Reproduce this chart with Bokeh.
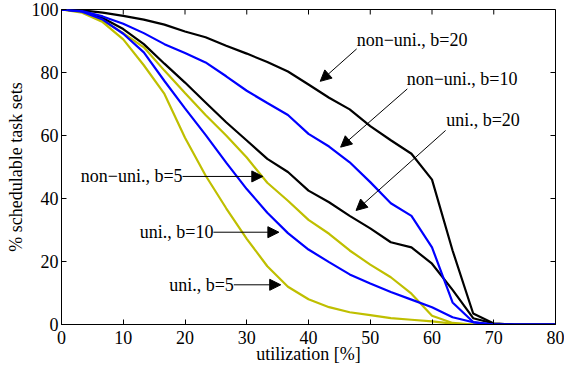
from bokeh.plotting import figure
from bokeh.models import Range1d, FixedTicker, Label, Arrow, NormalHead
from bokeh.embed import file_html
from bokeh.resources import INLINE

# ---- data ----
utilization = [0, 3.33, 6.67, 10, 13.33, 16.67, 20, 23.33, 26.67, 30, 33.33, 36.67, 40,
               43.33, 46.67, 50, 53.33, 56.67, 60, 63.33, 66.67, 70, 73.33, 76.67, 80]
non_uni_b20 = [100, 99.7, 99, 98, 96.8, 95.2, 93, 91.2, 88.5, 86, 83.3, 80.3, 76.2,
               72, 68.3, 63, 58.5, 54.2, 46, 23.5, 3.5, 0.3, 0, 0, 0]
non_uni_b10 = [100, 99.5, 97.8, 95.5, 92.5, 89, 86.2, 83.2, 78.8, 74.2, 70.3, 66.5, 60.5,
               56.5, 51.5, 45.2, 38.5, 34.5, 24.5, 7, 0.8, 0, 0, 0, 0]
uni_b20 = [100, 99.5, 97.3, 93.8, 89, 82.8, 76.8, 70.5, 64.2, 58.4, 52.6, 48.4, 42.5,
           38.8, 34.5, 30.5, 26.1, 24.5, 19.3, 11, 2, 0.3, 0, 0, 0]
non_uni_b5 = [100, 99.2, 96.5, 92.5, 88, 80.6, 73.5, 66.5, 60, 53, 45, 39.3, 33.2,
              28.8, 23.5, 19, 15, 9.8, 2.8, 0.5, 0, 0, 0, 0, 0]
uni_b10 = [100, 99.3, 96.8, 92.3, 86.4, 77.3, 68.6, 60.2, 51.4, 43, 35.5, 29, 23.8,
           19.8, 15.9, 13, 10.3, 7.9, 5.5, 2.3, 0.7, 0, 0, 0, 0]
uni_b5 = [100, 99, 96, 90.5, 82.3, 73.2, 59.3, 47.3, 36.9, 27.2, 18.5, 12, 8,
          5.5, 3.9, 3, 2, 1.5, 1, 0.3, 0, 0, 0, 0, 0]

x_ticks = [0, 10, 20, 30, 40, 50, 60, 70, 80]
y_ticks = [0, 20, 40, 60, 80, 100]

# annotations: text, text anchor (x, y), align, arrow start (x, y), arrow tip (x, y)
annotations = [
    ("non\u2212uni., b=20", (47.8, 90.2), "left", (47.8, 87.5), (41.9, 77.2)),
    ("non\u2212uni., b=10", (55.9, 77.8), "left", (56.0, 74.8), (45.2, 56.3)),
    ("uni., b=20", (62.3, 64.8), "left", (62.2, 61.6), (47.7, 36.2)),
    ("non\u2212uni., b=5", (19.6, 47.0), "right", (19.6, 47.0), (32.6, 47.0)),
    ("uni., b=10", (24.6, 29.3), "right", (24.6, 29.3), (35.2, 29.3)),
    ("uni., b=5", (27.9, 12.6), "right", (27.9, 12.6), (35.5, 12.6)),
]

BLACK = "#000000"
BLUE = "#0000ff"
YELLOW = "#bfbf00"
FONT = "Liberation Serif"
FS = "18px"

X0, X1, Y0, Y1 = 0, 80, 0, 100
W, H = 564, 376
BL, BR, BT, BB = 61, 9, 9, 52
TICK_PX = 5

p = figure(width=W, height=H, output_backend="svg", toolbar_location=None,
           x_range=Range1d(X0, X1), y_range=Range1d(Y0, Y1),
           min_border_left=BL, min_border_right=BR, min_border_top=BT, min_border_bottom=BB)
p.background_fill_color = "white"
p.border_fill_color = "white"
p.outline_line_color = "black"
p.outline_line_width = 1
p.xgrid.visible = False
p.ygrid.visible = False

series = [
    (uni_b5, YELLOW), (non_uni_b5, YELLOW),
    (uni_b20, BLACK), (non_uni_b20, BLACK),
    (uni_b10, BLUE), (non_uni_b10, BLUE),
]
for ys, c in series:
    p.line(utilization, ys, line_color=c, line_width=2.2)

for ax, ticks in ((p.xaxis, x_ticks), (p.yaxis, y_ticks)):
    ax.ticker = FixedTicker(ticks=ticks)
    ax.major_tick_in = TICK_PX
    ax.major_tick_out = 0
    ax.minor_tick_in = 0
    ax.minor_tick_out = 0
    ax.axis_line_color = "black"
    ax.major_tick_line_color = "black"
    ax.major_label_text_font = FONT
    ax.major_label_text_font_size = FS
    ax.major_label_text_color = "black"
    ax.axis_label_text_font = FONT
    ax.axis_label_text_font_size = FS
    ax.axis_label_text_font_style = "normal"
    ax.axis_label_text_color = "black"

p.xaxis.axis_label = "utilization [%]"
p.yaxis.axis_label = "% schedulable task sets"
p.xaxis.major_label_standoff = 6
p.xaxis.axis_label_standoff = -3
p.yaxis.major_label_standoff = 3
p.yaxis.axis_label_standoff = 3

# mirrored inward ticks on top and right edges of the box
frame_w = W - BL - BR
frame_h = H - BT - BB
dy = TICK_PX * (Y1 - Y0) / frame_h
dx = TICK_PX * (X1 - X0) / frame_w
p.segment(x0=x_ticks, y0=[Y1] * len(x_ticks), x1=x_ticks, y1=[Y1 - dy] * len(x_ticks),
          line_color="black", line_width=1)
p.segment(x0=[X1] * len(y_ticks), y0=y_ticks, x1=[X1 - dx] * len(y_ticks), y1=y_ticks,
          line_color="black", line_width=1)

for text, (tx, ty), align, (sx, sy), (ex, ey) in annotations:
    p.add_layout(Label(x=tx, y=ty, text=text, text_align=align, text_baseline="middle",
                       text_font=FONT, text_font_size=FS, text_color="black"))
    p.add_layout(Arrow(x_start=sx, y_start=sy, x_end=ex, y_end=ey, line_width=1,
                       line_color="black",
                       end=NormalHead(size=11, fill_color="black", line_color="black")))

open("out.html", "w").write(file_html(p, INLINE))
